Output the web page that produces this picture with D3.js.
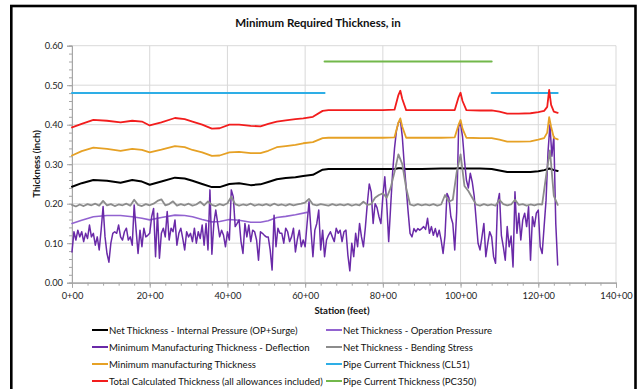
<!DOCTYPE html>
<html><head><meta charset="utf-8">
<script src="https://cdn.jsdelivr.net/npm/d3@7"></script>
<style>
body{margin:0;background:#fff;}
svg{display:block;font-family:Lato,"Open Sans",sans-serif;}
</style>
</head><body>
<svg id="chart" width="638" height="389"></svg>
<script>
// ---------- DATA ----------
const chartTitle = "Minimum Required Thickness, in";
const xAxisTitle = "Station (feet)";
const yAxisTitle = "Thickness (inch)";

const stationTicks = [0, 20, 40, 60, 80, 100, 120, 140];
const stationTickLabels = ["0+00", "20+00", "40+00", "60+00", "80+00", "100+00", "120+00", "140+00"];
const thicknessTicks = [0, 0.1, 0.2, 0.3, 0.4, 0.5, 0.6];
const thicknessTickLabels = ["0.00", "0.10", "0.20", "0.30", "0.40", "0.50", "0.60"];

const seriesNames = [
  "Net Thickness - Internal Pressure (OP+Surge)",
  "Net Thickness - Operation Pressure",
  "Minimum Manufacturing  Thickness - Deflection",
  "Net Thickness - Bending Stress",
  "Minimum manufacturing Thickness",
  "Pipe Current Thickness (CL51)",
  "Total Calculated Thickness (all allowances included)",
  "Pipe Current Thickness (PC350)"
];

// stations for the smooth series (black, orange, red)
const smoothStations = [0, 2.5, 5.5, 9, 12.5, 15.5, 18, 20, 23, 26.5, 29, 31, 33.5, 36, 38, 40.5, 43, 46, 48.5, 50.5,
  52.7, 55, 57.5, 59.5, 62, 64.5, 66, 70, 75, 80, 83, 84, 84.5, 85, 86, 90, 95, 98.5, 99.5, 100,
  100.5, 101.5, 105, 108, 110, 112, 115, 118, 120, 121.5, 122.3, 122.8, 123.3, 124, 125];

const internalPressure = [0.243, 0.252, 0.260, 0.258, 0.253, 0.260, 0.256, 0.248, 0.256, 0.266, 0.264, 0.258, 0.250, 0.242, 0.242, 0.250, 0.252, 0.247, 0.249, 0.255,
  0.262, 0.265, 0.267, 0.270, 0.273, 0.286, 0.288, 0.288, 0.288, 0.288, 0.288, 0.290, 0.290, 0.289, 0.288, 0.288, 0.289, 0.289, 0.290, 0.290,
  0.289, 0.289, 0.289, 0.288, 0.284, 0.280, 0.280, 0.280, 0.282, 0.285, 0.287, 0.289, 0.288, 0.285, 0.283];

const minManufacturing = [0.322, 0.333, 0.342, 0.339, 0.334, 0.339, 0.336, 0.330, 0.337, 0.346, 0.343, 0.336, 0.330, 0.321, 0.322, 0.330, 0.331, 0.328, 0.328, 0.334,
  0.343, 0.346, 0.349, 0.353, 0.356, 0.366, 0.367, 0.367, 0.367, 0.367, 0.368, 0.405, 0.416, 0.395, 0.367, 0.367, 0.367, 0.368, 0.400, 0.412,
  0.390, 0.367, 0.366, 0.366, 0.362, 0.357, 0.357, 0.358, 0.362, 0.366, 0.380, 0.419, 0.395, 0.367, 0.363];

const totalCalculated = [0.393, 0.402, 0.412, 0.410, 0.406, 0.410, 0.408, 0.398, 0.406, 0.417, 0.414, 0.408, 0.400, 0.390, 0.391, 0.400, 0.400, 0.397, 0.396, 0.402,
  0.408, 0.411, 0.414, 0.416, 0.420, 0.435, 0.437, 0.437, 0.437, 0.437, 0.438, 0.475, 0.486, 0.465, 0.437, 0.437, 0.437, 0.437, 0.470, 0.481,
  0.460, 0.437, 0.436, 0.436, 0.433, 0.428, 0.428, 0.429, 0.432, 0.435, 0.445, 0.488, 0.450, 0.433, 0.430];

// Net Thickness - Operation Pressure (visible up to ~60+50)
const opStations = [0, 2.5, 5.5, 9, 12.5, 15.5, 18, 20, 23, 26.5, 29, 31, 33.5, 36, 38, 40.5, 43, 46, 48.5, 50.5, 52.7, 55, 57.5, 60.5];
const operationPressure = [0.150, 0.158, 0.167, 0.170, 0.170, 0.167, 0.163, 0.159, 0.165, 0.171, 0.170, 0.167, 0.160, 0.154, 0.155, 0.160, 0.158, 0.153, 0.153, 0.157, 0.165, 0.168, 0.172, 0.178];

// Minimum Manufacturing Thickness - Deflection, every 0.5 station from 0 to 125
const deflectionStart = 0, deflectionStep = 0.5;
const deflection = [
  0.078, 0.129, 0.108, 0.133, 0.116, 0.129, 0.104, 0.125, 0.112, 0.146,
  0.116, 0.125, 0.095, 0.116, 0.083, 0.133, 0.193, 0.116, 0.074, 0.052,
  0.100, 0.125, 0.129, 0.125, 0.146, 0.116, 0.108, 0.129, 0.138, 0.108,
  0.116, 0.095, 0.197, 0.133, 0.074, 0.133, 0.091, 0.138, 0.116, 0.120,
  0.125, 0.167, 0.188, 0.066, 0.176, 0.062, 0.125, 0.138, 0.116, 0.180,
  0.108, 0.138, 0.129, 0.159, 0.095, 0.125, 0.138, 0.112, 0.083, 0.129,
  0.116, 0.125, 0.104, 0.138, 0.100, 0.129, 0.112, 0.146, 0.095, 0.150,
  0.083, 0.235, 0.072, 0.150, 0.184, 0.150, 0.116, 0.133, 0.120, 0.091,
  0.129, 0.108, 0.235, 0.218, 0.142, 0.150, 0.159, 0.104, 0.074, 0.150,
  0.116, 0.146, 0.104, 0.133, 0.129, 0.108, 0.057, 0.129, 0.125, 0.120,
  0.116, 0.116, 0.083, 0.032, 0.171, 0.091, 0.138, 0.125, 0.125, 0.100,
  0.138, 0.129, 0.104, 0.116, 0.138, 0.078, 0.110, 0.133, 0.091, 0.108,
  0.091, 0.150, 0.205, 0.133, 0.066, 0.133, 0.150, 0.184, 0.083, 0.133,
  0.066, 0.108, 0.120, 0.129, 0.116, 0.104, 0.138, 0.125, 0.133, 0.104,
  0.129, 0.133, 0.070, 0.030, 0.100, 0.066, 0.125, 0.091, 0.150, 0.116,
  0.091, 0.140, 0.200, 0.250, 0.230, 0.150, 0.200, 0.190, 0.167, 0.150,
  0.218, 0.268, 0.200, 0.104, 0.192, 0.277, 0.340, 0.385, 0.405, 0.412,
  0.370, 0.300, 0.240, 0.180, 0.125, 0.116, 0.137, 0.129, 0.137, 0.133,
  0.137, 0.142, 0.135, 0.163, 0.125, 0.142, 0.120, 0.137, 0.116, 0.133,
  0.108, 0.074, 0.120, 0.226, 0.215, 0.167, 0.150, 0.083, 0.180, 0.395,
  0.403, 0.370, 0.310, 0.260, 0.240, 0.277, 0.255, 0.220, 0.160, 0.100,
  0.083, 0.116, 0.150, 0.066, 0.100, 0.129, 0.116, 0.066, 0.049, 0.200,
  0.226, 0.120, 0.091, 0.057, 0.142, 0.091, 0.118, 0.040, 0.230, 0.125,
  0.176, 0.108, 0.159, 0.176, 0.142, 0.192, 0.057, 0.167, 0.142, 0.176,
  0.184, 0.091, 0.074, 0.142, 0.209, 0.330, 0.400, 0.320, 0.370, 0.150,
  0.045
];

// Net Thickness - Bending Stress, every 1 station from 0 to 125
const bendingStart = 0, bendingStep = 1;
const bendingStress = [
  0.197, 0.193, 0.198, 0.194, 0.199, 0.196, 0.200, 0.195, 0.207, 0.196,
  0.199, 0.194, 0.198, 0.196, 0.200, 0.195, 0.210, 0.197, 0.194, 0.199,
  0.196, 0.200, 0.207, 0.211, 0.196, 0.199, 0.206, 0.195, 0.199, 0.196,
  0.200, 0.195, 0.198, 0.205, 0.196, 0.206, 0.197, 0.194, 0.199, 0.196,
  0.201, 0.218, 0.199, 0.195, 0.198, 0.196, 0.200, 0.195, 0.198, 0.196,
  0.199, 0.195, 0.200, 0.196, 0.198, 0.195, 0.199, 0.196, 0.198, 0.200,
  0.203, 0.212, 0.198, 0.196, 0.199, 0.197, 0.195, 0.199, 0.196, 0.198,
  0.196, 0.199, 0.195, 0.198, 0.196, 0.205, 0.197, 0.199, 0.215, 0.222,
  0.226, 0.215, 0.240, 0.280, 0.325, 0.300, 0.240, 0.198, 0.195, 0.199,
  0.196, 0.198, 0.196, 0.199, 0.195, 0.198, 0.222, 0.205, 0.210, 0.280,
  0.325, 0.245, 0.232, 0.215, 0.198, 0.195, 0.199, 0.196, 0.198, 0.195,
  0.210, 0.199, 0.196, 0.198, 0.210, 0.197, 0.199, 0.195, 0.198, 0.196,
  0.199, 0.198, 0.270, 0.335, 0.220, 0.197
];

// Pipe current thickness segments
const cl51Segments = [ {from: 0, to: 65, value: 0.48}, {from: 108, to: 125, value: 0.48} ];
const pc350Segments = [ {from: 65, to: 108, value: 0.56} ];

const colors = ["#000000", "#9263d0", "#6a2aa8", "#8c8c8c", "#e6a125", "#2eaee6", "#f21d1d", "#72b84b"];

// ---------- LAYOUT ----------
const svg = d3.select("#chart");
const W = 638, H = 389;
const plot = {left: 72, right: 616, top: 45.7, bottom: 282.7};

const x = d3.scaleLinear().domain([0, 140]).range([plot.left, plot.right]);
const y = d3.scaleLinear().domain([0, 0.6]).range([plot.bottom, plot.top]);

svg.append("rect").attr("width", W).attr("height", H).attr("fill", "#fff");
// outer frame
svg.append("rect").attr("x", 11.3).attr("y", 6).attr("width", 624.2).attr("height", 400)
  .attr("fill", "none").attr("stroke", "#000").attr("stroke-width", 2.6);

// gridlines
const grid = svg.append("g");
grid.selectAll(".hg").data(thicknessTicks).join("line")
  .attr("x1", plot.left).attr("x2", plot.right)
  .attr("y1", d => y(d)).attr("y2", d => y(d))
  .attr("stroke", "#d9d9d9").attr("stroke-width", 1);
grid.selectAll(".vg").data(stationTicks).join("line")
  .attr("y1", plot.top).attr("y2", plot.bottom)
  .attr("x1", d => x(d)).attr("x2", d => x(d))
  .attr("stroke", "#d9d9d9").attr("stroke-width", 1);

// axes
const axisColor = "#a6a6a6";
const yMinor = svg.append("g").attr("transform", `translate(${plot.left},0)`)
  .call(d3.axisLeft(y).tickValues(d3.range(0, 0.6001, 0.02)).tickSize(3).tickFormat(""));
const yAxis = svg.append("g").attr("transform", `translate(${plot.left},0)`)
  .call(d3.axisLeft(y).tickValues(thicknessTicks).tickSize(5).tickPadding(4)
    .tickFormat((d, i) => thicknessTickLabels[i]));
const xMinor = svg.append("g").attr("transform", `translate(0,${plot.bottom})`)
  .call(d3.axisBottom(x).tickValues(d3.range(0, 140.01, 4)).tickSize(3).tickFormat(""));
const xAxis = svg.append("g").attr("transform", `translate(0,${plot.bottom})`)
  .call(d3.axisBottom(x).tickValues(stationTicks).tickSize(5).tickPadding(5)
    .tickFormat((d, i) => stationTickLabels[i]));
[yMinor, yAxis, xMinor, xAxis].forEach(g => {
  g.select(".domain").attr("stroke", axisColor);
  g.selectAll(".tick line").attr("stroke", axisColor);
  g.selectAll("text").attr("fill", "#222").attr("font-size", 9.3).attr("font-family", "Lato, sans-serif");
});

// ---------- SERIES ----------
const lineGen = d3.line().x(d => x(d[0])).y(d => y(d[1]));
const series = svg.append("g");

function drawLine(points, color, width) {
  series.append("path").datum(points).attr("d", lineGen)
    .attr("fill", "none").attr("stroke", color).attr("stroke-width", width)
    .attr("stroke-linejoin", "round").attr("stroke-linecap", "round");
}

drawLine(smoothStations.map((s, i) => [s, internalPressure[i]]), colors[0], 2);
drawLine(opStations.map((s, i) => [s, operationPressure[i]]), colors[1], 1.6);
drawLine(deflection.map((v, i) => [deflectionStart + i * deflectionStep, v]), colors[2], 1.5);
drawLine(bendingStress.map((v, i) => [bendingStart + i * bendingStep, v]), colors[3], 1.8);
drawLine(smoothStations.map((s, i) => [s, minManufacturing[i]]), colors[4], 1.8);
cl51Segments.forEach(sg => drawLine([[sg.from, sg.value], [sg.to, sg.value]], colors[5], 2));
drawLine(smoothStations.map((s, i) => [s, totalCalculated[i]]), colors[6], 1.8);
pc350Segments.forEach(sg => drawLine([[sg.from, sg.value], [sg.to, sg.value]], colors[7], 2));

// ---------- TEXT ----------
svg.append("text").attr("x", 318).attr("y", 27).attr("text-anchor", "middle")
  .attr("font-weight", "bold").attr("font-size", 11.5).attr("fill", "#111").text(chartTitle);
svg.append("text").attr("x", 342).attr("y", 314).attr("text-anchor", "middle")
  .attr("font-weight", "bold").attr("font-size", 9.6).attr("fill", "#111").text(xAxisTitle);
svg.append("text").attr("transform", `translate(40,164) rotate(-90)`).attr("text-anchor", "middle")
  .attr("font-weight", "bold").attr("font-size", 9.6).attr("fill", "#111").text(yAxisTitle);

// ---------- LEGEND ----------
const legendCols = [92, 326];
const legendRows = [330, 347, 364, 381];
const legend = svg.append("g");
seriesNames.forEach((name, i) => {
  const cx = legendCols[i % 2], cy = legendRows[Math.floor(i / 2)];
  legend.append("line").attr("x1", cx).attr("x2", cx + 16).attr("y1", cy).attr("y2", cy)
    .attr("stroke", colors[i]).attr("stroke-width", 2);
  legend.append("text").attr("x", cx + 17).attr("y", cy + 3.5)
    .attr("font-size", 9.6).attr("fill", "#111").text(name);
});
</script>
</body></html>
